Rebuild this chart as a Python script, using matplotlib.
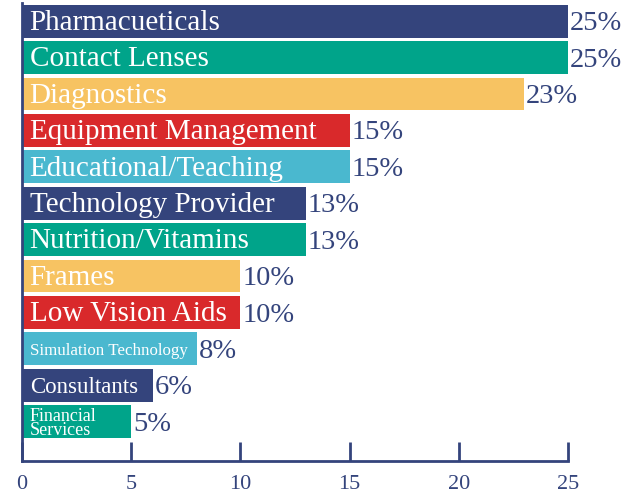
import matplotlib
matplotlib.use("Agg")
import matplotlib.pyplot as plt

# datos
categorias = ["Pharmacueticals", "Contact Lenses", "Diagnostics", "Equipment Management",
              "Educational/Teaching", "Technology Provider", "Nutrition/Vitamins", "Frames",
              "Low Vision Aids", "Simulation Technology", "Consultants", "Financial\nServices"]
valores = [25, 25, 23, 15, 15, 13, 13, 10, 10, 8, 6, 5]
tamanos = [21, 21, 21, 21, 21, 21, 21, 21, 21, 12.2, 16.5, 13]
ticks = [0, 5, 10, 15, 20, 25]

navy = "#34447c"
paleta = ["#34447c", "#00a48a", "#f7c362", "#d9292b", "#4ab8cf"]
colores = [paleta[i % 5] for i in range(len(valores))]

plt.rcParams["font.family"] = ["Liberation Serif", "DejaVu Serif"]

fig = plt.figure(figsize=(6.38, 4.96), dpi=100)
ax = fig.add_axes([22 / 638, 35 / 496, 546 / 638, 458 / 496])

y = list(range(len(valores)))
ax.barh(y, valores, height=0.9, color=colores)

for i, (cat, v) in enumerate(zip(categorias, valores)):
    ax.text(0.35, i + 0.05, cat, color="white", fontsize=tamanos[i], va="center", ha="left",
            linespacing=0.8)
    ax.text(v + 0.08, i + 0.07, f"{v}%", color=navy, fontsize=20.5, va="center", ha="left")

ax.set_xlim(0, 25)
ax.set_ylim(12.08, -0.5)
ax.set_xticks(ticks)
ax.set_yticks([])
ax.tick_params(axis="x", direction="in", length=14, width=2, color=navy,
               labelcolor=navy, labelsize=16, pad=10)
for s in ["top", "right"]:
    ax.spines[s].set_visible(False)
for s in ["left", "bottom"]:
    ax.spines[s].set_color(navy)
    ax.spines[s].set_linewidth(2)

fig.savefig("out.png", dpi=100)
